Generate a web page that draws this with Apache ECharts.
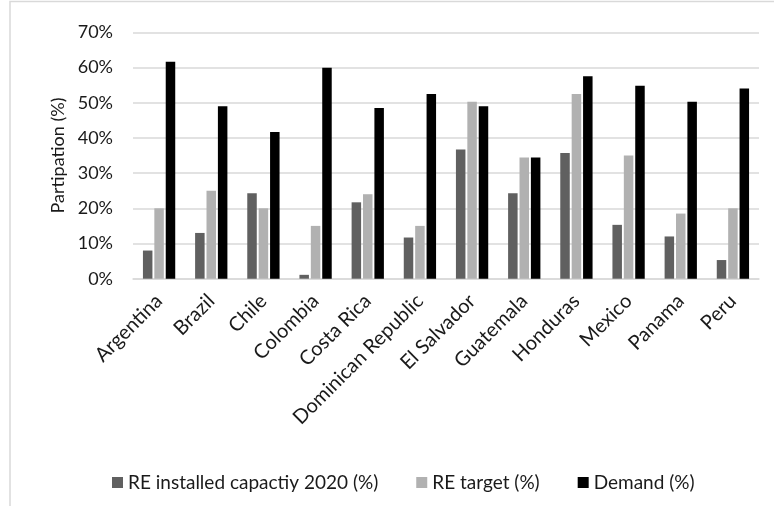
<!DOCTYPE html>
<html>
<head>
<meta charset="utf-8">
<script src="https://cdn.jsdelivr.net/npm/echarts@6/dist/echarts.min.js"></script>
<style>
  html, body { margin: 0; padding: 0; background: #fff; }
  #chart { width: 774px; height: 506px; }
</style>
</head>
<body>
<div id="chart"></div>
<script>
// Renewable energy participation by country
const countries = ['Argentina', 'Brazil', 'Chile', 'Colombia', 'Costa Rica', 'Dominican Republic',
  'El Salvador', 'Guatemala', 'Honduras', 'Mexico', 'Panama', 'Peru'];
const installed2020 = [8, 13, 24.3, 1.1, 21.7, 11.7, 36.7, 24.3, 35.7, 15.3, 12, 5.3];
const reTarget = [20, 25, 20, 15, 24, 15, 50.3, 34.4, 52.5, 35, 18.5, 20];
const demand = [61.6, 49, 41.7, 59.9, 48.5, 52.5, 49, 34.4, 57.5, 54.8, 50.3, 54];
const seriesNames = ['RE installed capactiy 2020 (%)', 'RE target (%)', 'Demand (%)'];

const FONT = 'Lato, "Open Sans", sans-serif';
const TEXT = '#1a1a1a';

const chart = echarts.init(document.getElementById('chart'));

function barSeries(name, data, color) {
  return {
    name: name,
    type: 'bar',
    data: data,
    barWidth: 9.5,
    barGap: '20%',
    itemStyle: { color: color },
    emphasis: { disabled: true }
  };
}

chart.setOption({
  animation: false,
  backgroundColor: '#fff',
  textStyle: { fontFamily: FONT },
  graphic: [{
    type: 'rect',
    shape: { x: 10, y: 1.5, width: 900, height: 700 },
    style: { fill: 'none', stroke: '#d9d9d9', lineWidth: 1.5 },
    silent: true
  }],
  grid: { left: 133, right: 15, top: 32.3, bottom: 227.3, containLabel: false },
  legend: {
    left: 107,
    top: 468,
    itemWidth: 11,
    itemHeight: 11,
    itemGap: 38,
    icon: 'rect',
    textStyle: { fontFamily: FONT, fontSize: 19, color: TEXT },
    data: seriesNames
  },
  xAxis: {
    type: 'category',
    data: countries,
    axisLine: { lineStyle: { color: '#d9d9d9', width: 1.5 } },
    axisTick: { show: false },
    axisLabel: {
      rotate: 45,
      interval: 0,
      margin: 19,
      fontFamily: FONT,
      fontSize: 20,
      color: TEXT
    }
  },
  yAxis: {
    type: 'value',
    min: 0,
    max: 70,
    interval: 10,
    name: 'Partipation (%)',
    nameLocation: 'middle',
    nameGap: 63,
    nameTextStyle: { fontFamily: FONT, fontSize: 18, color: TEXT },
    axisLine: { show: false },
    axisTick: { show: false },
    splitLine: { lineStyle: { color: '#d9d9d9', width: 1.5 } },
    axisLabel: {
      margin: 20,
      fontFamily: FONT,
      fontSize: 18,
      color: TEXT,
      formatter: v => v + '%'
    }
  },
  series: [
    barSeries(seriesNames[0], installed2020, '#606060'),
    barSeries(seriesNames[1], reTarget, '#b1b1b1'),
    barSeries(seriesNames[2], demand, '#000000')
  ]
});
</script>
</body>
</html>
